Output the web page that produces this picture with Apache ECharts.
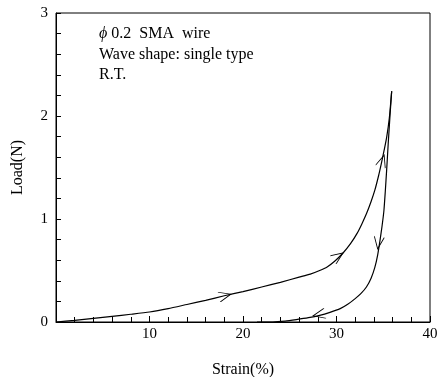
<!DOCTYPE html>
<html>
<head>
<meta charset="utf-8">
<script src="https://cdn.jsdelivr.net/npm/echarts@6/dist/echarts.min.js"></script>
<style>
html,body{margin:0;padding:0;background:#fff;}
#chart{width:441px;height:377px;}
</style>
</head>
<body>
<div id="chart"></div>
<script>
// Loading branch (strain %, load N)
var loadStrain = [0, 2, 4, 6, 8, 10, 12, 14, 16, 18, 20, 22, 24, 26, 27.2, 28.2, 29, 29.8, 30.7, 31.5, 32.2, 32.7, 33.2, 33.7, 34.1, 34.5, 34.8, 35.1, 35.36, 35.65, 35.9];
var loadForce  = [0, 0.015, 0.035, 0.055, 0.075, 0.097, 0.13, 0.17, 0.21, 0.255, 0.295, 0.34, 0.385, 0.435, 0.465, 0.50, 0.535, 0.59, 0.67, 0.76, 0.86, 0.95, 1.05, 1.17, 1.28, 1.42, 1.54, 1.67, 1.79, 1.98, 2.24];
// Unloading branch
var unloadStrain = [35.9, 35.72, 35.53, 35.36, 35.22, 35.07, 34.87, 34.65, 34.4, 34.1, 33.7, 33.2, 32.6, 32.0, 31.2, 30.4, 29.3, 28.2, 27, 25.7, 24.5, 23.2, 21.5];
var unloadForce  = [2.24, 2.0, 1.73, 1.47, 1.27, 1.08, 0.93, 0.79, 0.65, 0.53, 0.425, 0.34, 0.275, 0.227, 0.172, 0.13, 0.094, 0.065, 0.042, 0.023, 0.008, 0, 0];
// Direction arrows: strain, load, heading (deg)
var arrowStrain = [18.7, 30.7, 35.1, 34.4, 27.5];
var arrowForce  = [0.27, 0.67, 1.62, 0.71, 0.06];
var arrowAngle  = [14, 35, 72, -98, 192];
// Ticks / labels
var xTicks = [0, 10, 20, 30, 40];
var yTicks = [0, 1, 2, 3];
var annotation = ['{i|\u03d5} 0.2  SMA  wire', 'Wave shape: single type', 'R.T.'];

var FONT = '"Liberation Serif", "DejaVu Serif", serif';
var chart = echarts.init(document.getElementById('chart'), null, {renderer: 'canvas'});

var arrowData = arrowStrain.map(function (x, i) {
  return {value: [x, arrowForce[i]], symbolRotate: arrowAngle[i]};
});

chart.setOption({
  animation: false,
  backgroundColor: '#fff',
  grid: {left: 56, right: 11, top: 13, bottom: 55, show: true, borderColor: '#000', borderWidth: 1,
         backgroundColor: 'transparent', containLabel: false, outerBoundsMode: 'none'},
  xAxis: {
    type: 'value', min: xTicks[0], max: xTicks[xTicks.length - 1], interval: 10,
    name: 'Strain(%)', nameLocation: 'middle', nameGap: 40,
    nameTextStyle: {fontFamily: FONT, fontSize: 16, color: '#000'},
    axisLine: {show: true, lineStyle: {color: '#000', width: 1}},
    axisTick: {show: true, inside: true, length: 6, lineStyle: {color: '#000'}},
    minorTick: {show: true, splitNumber: 5, length: 5, lineStyle: {color: '#000'}},
    splitLine: {show: false},
    axisLabel: {fontFamily: FONT, fontSize: 15, color: '#000', margin: 5,
      formatter: function (v) { return v === 0 ? '' : String(v); }}
  },
  yAxis: {
    type: 'value', min: yTicks[0], max: yTicks[yTicks.length - 1], interval: 1,
    name: 'Load(N)', nameLocation: 'middle', nameGap: 30, nameRotate: 90,
    nameTextStyle: {fontFamily: FONT, fontSize: 16, color: '#000'},
    axisLine: {show: true, lineStyle: {color: '#000', width: 1}},
    axisTick: {show: true, inside: true, length: 5, lineStyle: {color: '#000'}},
    minorTick: {show: true, splitNumber: 5, length: 5, lineStyle: {color: '#000'}},
    splitLine: {show: false},
    axisLabel: {fontFamily: FONT, fontSize: 15, color: '#000', margin: 8}
  },
  graphic: [{
    type: 'text', left: 99, top: 24,
    style: {
      text: annotation.join('\n'),
      font: '16px ' + FONT, fill: '#000', lineHeight: 20.5,
      rich: {i: {fontStyle: 'italic', fontFamily: FONT, fontSize: 16, lineHeight: 20.5}}
    }
  }],
  series: [
    {type: 'line', data: loadStrain.map(function (x, i) { return [x, loadForce[i]]; }),
     smooth: 0.2, showSymbol: false, symbol: 'none', lineStyle: {color: '#000', width: 1.2}, silent: true},
    {type: 'line', data: unloadStrain.map(function (x, i) { return [x, unloadForce[i]]; }),
     smooth: 0.2, showSymbol: false, symbol: 'none', lineStyle: {color: '#000', width: 1.2}, silent: true},
    {type: 'scatter', data: arrowData, silent: true,
     symbol: 'path://M0,0 L12,5 L0,10 M24,5 L24,5',
     symbolSize: [24, 10],
     itemStyle: {color: 'none', borderColor: '#000', borderWidth: 1, opacity: 1}}
  ]
});
</script>
</body>
</html>
